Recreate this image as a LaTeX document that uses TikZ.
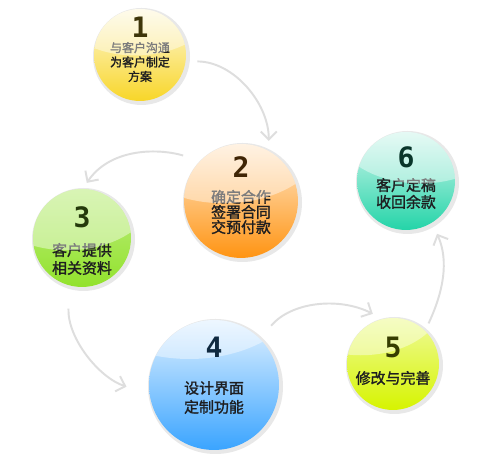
\documentclass[tikz,border=0pt]{standalone}
\usepackage{fontspec}
\newfontfamily\cjk{Noto Sans CJK SC}[AutoFakeBold=1.6]
\newfontfamily\digitfont{DejaVu Sans Mono}
\usetikzlibrary{arrows.meta,calc}
\definecolor{lemon}{RGB}{248,214,40}
\definecolor{tangerine}{RGB}{255,148,18}
\definecolor{lime}{RGB}{146,226,44}
\definecolor{sky}{RGB}{58,164,255}
\definecolor{chartreuse}{RGB}{214,244,0}
\definecolor{mint}{RGB}{36,212,168}
\definecolor{ink}{RGB}{30,30,32}
\definecolor{track}{RGB}{222,222,222}
\tikzset{
  >={Straight Barb[length=1.6mm,width=3.2mm]},
  ball/.style={circle,inner sep=0pt,shading=axis,bottom color=#1},
  rim/.style={fill=black!9},
  digit/.style={font=\digitfont\bfseries\fontsize{16}{16}\selectfont,inner sep=0pt},
  blurb/.style 2 args={font=\cjk\bfseries\fontsize{#1}{#2}\selectfont,text=ink,align=center,inner sep=0pt},
  flow/.style={->,draw=track,line width=1.1pt},
}

\begin{document}
\begin{tikzpicture}[x=0.02cm,y=0.02cm]
  \useasboundingbox (0,0) rectangle (500,475);
  \fill[white] (0,0) rectangle (500,475);
  \foreach \i/\x/\y/\r/\col/\mix/\dd/\td/\s/\b/\hx/\hy/\t in {
    1/140/420/46/lemon/15/28/-7/6.8/8.2/-0.1/1.19/{与客户沟通\\为客户制定\\方案},
    2/241/274/57/tangerine/20/34/-11/8.5/8.6/-0.3/1.16/{确定合作\\签署合同\\交预付款},
    3/82/237/49/lime/60/21/-21/8.5/10.2/-0.3/0.95/{客户提供\\相关资料},
    4/214/90/65/sky/15/38/-12.5/8.5/10.8/-0.38/1.6/{设计界面\\定制功能},
    5/393/111/46/chartreuse/40/17/-14/8.5/10/-0.7/1.39/{修改与完善},
    6/406/294/49/mint/20/24/-12.5/8.5/9.6/0.3/1.15/{客户定稿\\收回余款}}
  {
    \fill[rim] ($(\x,\y)+(1.5,-1.5)$) circle[radius=\r+2.5];
    \node[ball=\col,top color=\col!\mix,minimum size=\r*0.04cm] (c\i) at (\x,\y) {};
    \node[blurb={\s}{\b}] (t\i) at ($(c\i)+(0,\td)$) {\t};
    \begin{scope}
      \clip (c\i.center) circle[radius=\r];
      \fill[white,opacity=.42] ($(c\i)+(\hx*\r,\hy*\r)$) ellipse[x radius=1.8*\r,y radius=1.2*\r];
    \end{scope}
    \node[digit,text=\col!25!black] (d\i) at ($(c\i)+(0,\dd)$) {\i};
  }
  \draw[flow,shorten <=2.3mm,shorten >=2mm] (c1.-8) to[out=0,in=90] (c2.61);
  \draw[flow,shorten <=3.6mm,shorten >=1.4mm] (c2.135) to[out=164,in=56] (c3.89);
  \draw[flow,shorten <=4.6mm,shorten >=4.8mm] (c3.-105) to[out=-92,in=162] (c4.188);
  \draw[flow,shorten <=3.4mm,shorten >=2.2mm] (c4.45) to[out=50,in=153] (c5.103);
  \draw[flow,shorten <=1.6mm,shorten >=2.4mm] (c5.46) to[out=65,in=-66] (c6.-58);
\end{tikzpicture}
\end{document}
